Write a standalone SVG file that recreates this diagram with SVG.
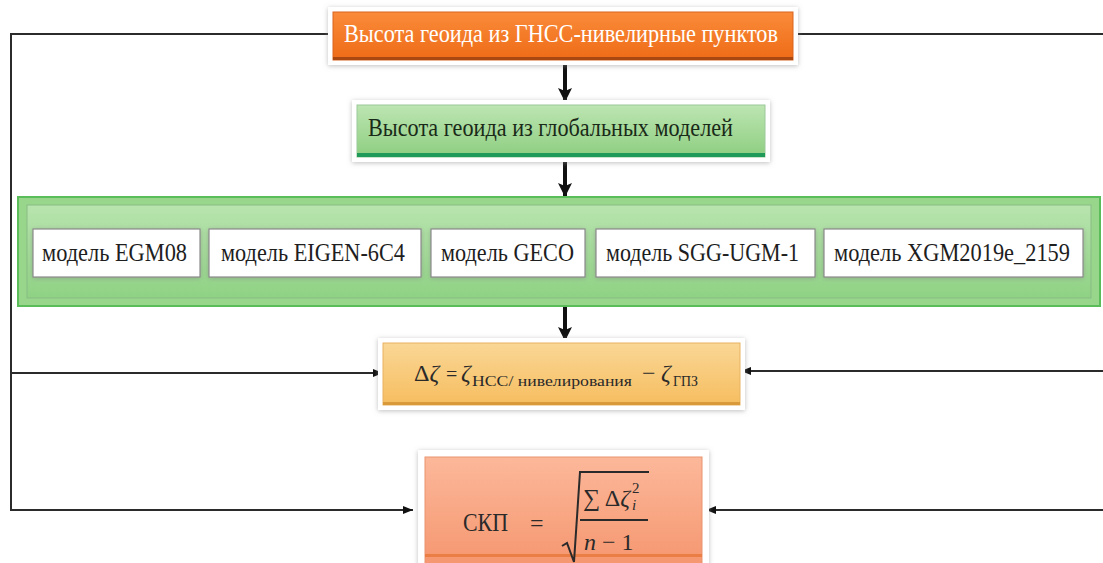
<svg xmlns="http://www.w3.org/2000/svg" width="1103" height="563" viewBox="0 0 1103 563">
<style>
text{font-family:"Liberation Serif","Times New Roman",serif}
.lbl{font-size:25px;fill:#1e1e1e}
.math{fill:#2a2a2a}
.ln{fill:none;stroke:#2b2b2b;stroke-width:2}
.vln{fill:none;stroke:#111;stroke-width:4}
.model{fill:#ffffff;stroke:#8a8a8a;stroke-width:1.2}
</style>
<defs>
<linearGradient id="gOrange" x1="0" y1="0" x2="0" y2="1"><stop offset="0" stop-color="#fa8b3a"/><stop offset="1" stop-color="#ee6b16"/></linearGradient>
<linearGradient id="gGreen" x1="0" y1="0" x2="0" y2="1"><stop offset="0" stop-color="#bde5b2"/><stop offset="1" stop-color="#8dce80"/></linearGradient>
<linearGradient id="gBig" x1="0" y1="0" x2="0" y2="1"><stop offset="0" stop-color="#b8e4ae"/><stop offset="1" stop-color="#8fd284"/></linearGradient>
<linearGradient id="gYellow" x1="0" y1="0" x2="0" y2="1"><stop offset="0" stop-color="#fad796"/><stop offset="1" stop-color="#f6bd5f"/></linearGradient>
<linearGradient id="gSalmon" x1="0" y1="0" x2="0" y2="1"><stop offset="0" stop-color="#fcb89a"/><stop offset="1" stop-color="#f5966f"/></linearGradient>
<filter id="sh" x="-5%" y="-20%" width="110%" height="140%"><feDropShadow dx="0" dy="1" stdDeviation="2.5" flood-color="#8a8a8a" flood-opacity="0.55"/></filter>
<marker id="ah" viewBox="0 0 10 8" refX="10" refY="4" markerWidth="10" markerHeight="8" markerUnits="userSpaceOnUse" orient="auto"><path d="M0,0 L10,4 L0,8 z" fill="#111"/></marker>
<marker id="ahv" viewBox="0 0 14 14" refX="14" refY="7" markerWidth="14" markerHeight="14" markerUnits="userSpaceOnUse" orient="auto"><path d="M0,0 L14,7 L0,14 L3,7 z" fill="#111"/></marker>
</defs>
<rect width="1103" height="563" fill="#ffffff"/>

<g id="connectors">
<path class="ln" d="M333 34 H11 V510 H413" marker-end="url(#ah)"/>
<path class="ln" d="M11 373 H383" marker-end="url(#ah)"/>
<path class="ln" d="M793 34 H1103"/>
<path class="ln" d="M1103 371 H741" marker-end="url(#ah)"/>
<path class="ln" d="M1103 510 H706" marker-end="url(#ah)"/>
<path class="vln" d="M565 61 V102" marker-end="url(#ahv)"/>
<path class="vln" d="M565 159 V197" marker-end="url(#ahv)"/>
<path class="vln" d="M565 307 V341" marker-end="url(#ahv)"/>
</g>

<g id="node-gnss">
<rect x="328" y="7" width="470" height="58" fill="#fff" filter="url(#sh)"/>
<rect x="333" y="12" width="460" height="48" fill="url(#gOrange)" stroke="#d9641e" stroke-width="1"/>
<rect x="333" y="57" width="460" height="3" fill="#a84810"/>
<text x="344" y="42" font-size="25" fill="#ffffff" textLength="434" lengthAdjust="spacingAndGlyphs">Высота геоида из ГНСС-нивелирные пунктов</text>
</g>

<g id="node-global">
<rect x="352" y="100" width="418" height="62" fill="#fff" filter="url(#sh)"/>
<rect x="357" y="105" width="408" height="52" fill="url(#gGreen)" stroke="#9cc99a" stroke-width="1"/>
<rect x="357" y="153" width="408" height="4" fill="#1f9a58"/>
<text x="368" y="136" font-size="25" fill="#1a2a18" textLength="365" lengthAdjust="spacingAndGlyphs">Высота геоида из глобальных моделей</text>
</g>

<g id="node-models">
<rect x="18" y="197" width="1082" height="109" fill="#98d68c" stroke="#5bbd59" stroke-width="2"/>
<rect x="27" y="205" width="1064" height="93" fill="url(#gBig)" stroke="#88bb84" stroke-width="1"/>
<g id="model-egm08">
<rect class="model" x="33" y="229" width="167" height="48" filter="url(#sh)"/>
<text class="lbl" x="42" y="261" textLength="145" lengthAdjust="spacingAndGlyphs">модель EGM08</text>
</g>
<g id="model-eigen">
<rect class="model" x="209" y="229" width="212" height="48" filter="url(#sh)"/>
<text class="lbl" x="221" y="261" textLength="184" lengthAdjust="spacingAndGlyphs">модель EIGEN-6C4</text>
</g>
<g id="model-geco">
<rect class="model" x="431" y="229" width="154" height="48" filter="url(#sh)"/>
<text class="lbl" x="441" y="261" textLength="133" lengthAdjust="spacingAndGlyphs">модель GECO</text>
</g>
<g id="model-sgg">
<rect class="model" x="596" y="229" width="219" height="48" filter="url(#sh)"/>
<text class="lbl" x="606" y="261" textLength="193" lengthAdjust="spacingAndGlyphs">модель SGG-UGM-1</text>
</g>
<g id="model-xgm">
<rect class="model" x="824" y="229" width="259" height="48" filter="url(#sh)"/>
<text class="lbl" x="834" y="261" textLength="236" lengthAdjust="spacingAndGlyphs">модель XGM2019e_2159</text>
</g>
</g>

<g id="node-delta">
<rect x="378" y="338" width="367" height="72" fill="#fff" filter="url(#sh)"/>
<rect x="383" y="343" width="357" height="62" fill="url(#gYellow)" stroke="#e7b263" stroke-width="1"/>
<rect x="383" y="402" width="357" height="3" fill="#d99a3c"/>
<text class="math" x="414" y="381" font-size="24">Δ<tspan font-style="italic">ζ</tspan></text>
<text class="math" x="446" y="381" font-size="20">=</text>
<text class="math" x="461" y="381" font-size="24" font-style="italic">ζ</text>
<text class="math" x="472" y="386" font-size="15" textLength="160" lengthAdjust="spacingAndGlyphs">НСС/ нивелирования</text>
<text class="math" x="642" y="381" font-size="24">−</text>
<text class="math" x="661" y="381" font-size="24" font-style="italic">ζ</text>
<text class="math" x="673" y="386" font-size="15" textLength="25" lengthAdjust="spacingAndGlyphs">ГПЗ</text>
</g>

<g id="node-skp">
<rect x="418" y="450" width="291" height="120" fill="#fff" filter="url(#sh)"/>
<rect x="425" y="457" width="277" height="110" fill="url(#gSalmon)" stroke="#e9936f" stroke-width="1"/>
<rect x="425" y="554" width="277" height="3" fill="#ea7e44"/>
<text class="math" x="463" y="531" font-size="25" textLength="45" lengthAdjust="spacingAndGlyphs">СКП</text>
<text class="math" x="530" y="531" font-size="24">=</text>
<path d="M562 546 L567 543 L574 562 L580 472 H649" fill="none" stroke="#2a2a2a" stroke-width="2"/>
<line x1="580" y1="520" x2="648" y2="520" stroke="#2a2a2a" stroke-width="1.8"/>
<text class="math" x="583" y="506" font-size="24">∑ Δ<tspan font-style="italic">ζ</tspan></text>
<text class="math" x="632" y="493" font-size="15">2</text>
<text class="math" x="632" y="510" font-size="15" font-style="italic">i</text>
<text class="math" x="584" y="550" font-size="24"><tspan font-style="italic">n</tspan> − 1</text>
</g>
</svg>
